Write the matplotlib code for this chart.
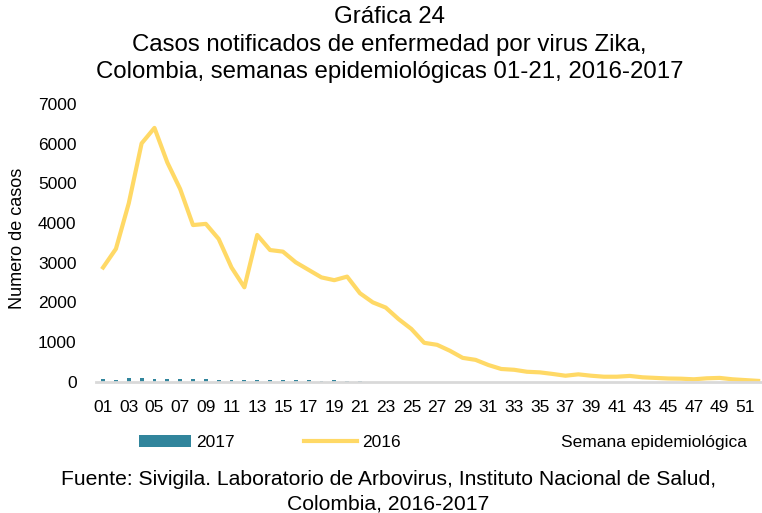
import numpy as np
import matplotlib.pyplot as plt

plt.rcParams['font.family'] = ['Liberation Sans', 'DejaVu Sans']

# semanas epidemiologicas
semanas = np.arange(1, 53)
semanas_2017 = np.arange(1, 22)

casos_2016 = [2880, 3350, 4500, 6010, 6400, 5530, 4860, 3950, 3980, 3600,
              2880, 2380, 3700, 3320, 3280, 3010, 2820, 2630, 2560, 2650,
              2230, 2000, 1870, 1580, 1330, 980, 930, 780, 600, 550,
              420, 320, 300, 250, 235, 195, 150, 185, 150, 125,
              125, 145, 110, 95, 80, 75, 60, 85, 95, 60,
              40, 20]

casos_2017 = [65, 50, 100, 100, 75, 75, 75, 75, 70, 50,
              40, 40, 50, 40, 40, 50, 35, 20, 30, 20, 20]

tick_labels = ["%02d" % s for s in range(1, 53, 2)]

fig = plt.figure(figsize=(7.62, 5.13), dpi=100)
ax = fig.add_axes([0.126, 0.256, 0.874, 0.541])

barras = ax.bar(semanas_2017, casos_2017, width=0.3, color='#31859C', label='2017')
linea, = ax.plot(semanas, casos_2016, color='#FFD966', lw=3, label='2016',
                 solid_joinstyle='round')

ax.set_xlim(0.45, 52.3)
ax.set_ylim(0, 7000)
ax.set_yticks(range(0, 7001, 1000))
ax.set_xticks(range(1, 53, 2))
ax.set_xticklabels(tick_labels)
ax.tick_params(axis='both', length=0, labelsize=12.5)
ax.tick_params(axis='x', pad=13.5)
ax.tick_params(axis='y', pad=14)

for s in ['top', 'right', 'left']:
    ax.spines[s].set_visible(False)
ax.spines['bottom'].set_color('#D9D9D9')
ax.spines['bottom'].set_linewidth(2)

ax.set_ylabel('Numero de casos', fontsize=13)
ax.yaxis.set_label_coords(-0.105, 0.515)

fig.text(0.511, 0.967, 'Gráfica 24', ha='center', va='center', fontsize=17.3)
fig.text(0.511, 0.912, 'Casos notificados de enfermedad por virus Zika,',
         ha='center', va='center', fontsize=17.3)
fig.text(0.511, 0.859, 'Colombia, semanas epidemiológicas 01-21, 2016-2017',
         ha='center', va='center', fontsize=17.3)

fig.legend(handles=[barras, linea], loc='center left', bbox_to_anchor=(0.162, 0.137),
           ncol=2, frameon=False, fontsize=12.5, handlelength=3.0,
           columnspacing=4.0, handletextpad=0.3)
fig.text(0.98, 0.138, 'Semana epidemiológica', ha='right', va='center', fontsize=12.5)

fig.text(0.51, 0.065, 'Fuente: Sivigila. Laboratorio de Arbovirus, Instituto Nacional de Salud,',
         ha='center', va='center', fontsize=15.2)
fig.text(0.51, 0.018, 'Colombia, 2016-2017', ha='center', va='center', fontsize=15.2)

fig.savefig('out.png', dpi=100)
